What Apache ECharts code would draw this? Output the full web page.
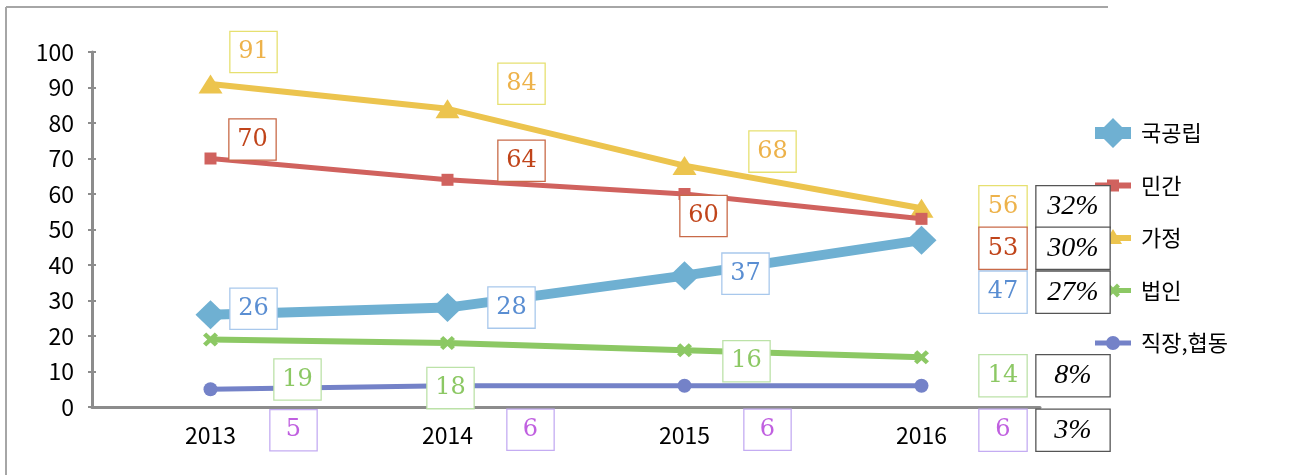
<!DOCTYPE html>
<html>
<head>
<meta charset="utf-8">
<script src="https://cdn.jsdelivr.net/npm/echarts@6/dist/echarts.min.js"></script>
<style>html,body{margin:0;padding:0;background:#fff}#c{width:1298px;height:475px}</style>
</head>
<body>
<div id="c"></div>
<script>
const years = ['2013', '2014', '2015', '2016'];
const seriesNames = ['국공립', '민간', '가정', '법인', '직장,협동'];
const public_ = [26, 28, 37, 47];
const privateV = [70, 64, 60, 53];
const home = [91, 84, 68, 56];
const corp = [19, 18, 16, 14];
const work = [5, 6, 6, 6];
const shares2016 = ['27%', '30%', '32%', '8%', '3%']; // by series order
const yTicks = [0, 100, 10];

// label offsets from each point (layout only)
const labelShift = [
  [[43, -6], [64, 0], [61, -2], [123, 51.5]],
  [[42, -19], [74, -19], [19, 22], [123, 29]],
  [[43, -32], [74, -25], [88, -14], [123, -2]],
  [[87, 40], [3, 45], [62, 11], [123, 18]],
  [[83, 41], [83, 44], [83, 44], [123, 44]]
];

const xMark = 'path://M0,3 L3,0 L7,4 L11,0 L14,3 L10,7 L14,11 L11,14 L7,10 L3,14 L0,11 L4,7 Z';
const styles = [
  {color: '#6FB0D2', width: 10, symbol: 'diamond', size: [30, 29], txt: '#5A8ED2', brd: '#A8C8EC',
   icon: 'path://M0,9 L36,9 L36,21 L0,21 Z M18,0 L33,15 L18,30 L3,15 Z'},
  {color: '#D0625E', width: 5, symbol: 'rect', size: [12, 12], txt: '#C0441A', brd: '#C86A48',
   icon: 'path://M0,0 L0.01,0 L0,0.01 Z M36,30 L35.99,30 L36,29.99 Z M0,12 L36,12 L36,18 L0,18 Z M12,9 L24,9 L24,21 L12,21 Z'},
  {color: '#ECC44E', width: 6, symbol: 'triangle', size: [24, 19], txt: '#EDB24A', brd: '#E6E070',
   icon: 'path://M0,0 L0.01,0 L0,0.01 Z M36,30 L35.99,30 L36,29.99 Z M0,12 L36,12 L36,18 L0,18 Z M18,6 L27,21 L9,21 Z'},
  {color: '#8CC864', width: 6, symbol: xMark, size: [15, 14], txt: '#8CC864', brd: '#BCE2A8',
   icon: 'path://M0,0 L0.01,0 L0,0.01 Z M36,30 L35.99,30 L36,29.99 Z M0,12.5 L36,12.5 L36,17.5 L0,17.5 Z M11,11 L14,8 L18,12 L22,8 L25,11 L21,15 L25,19 L22,22 L18,18 L14,22 L11,19 L15,15 Z'},
  {color: '#7482C8', width: 5, symbol: 'circle', size: [14, 14], txt: '#C060E0', brd: '#C4ACF2',
   icon: 'path://M0,0 L0.01,0 L0,0.01 Z M36,30 L35.99,30 L36,29.99 Z M0,12.5 L36,12.5 L36,17.5 L0,17.5 Z M11,15 A7,7 0 1,1 25,15 A7,7 0 1,1 11,15 Z'}
];
const valueArrays = [public_, privateV, home, corp, work];

const serifFont = '"DejaVu Serif", serif';
const sansFont = '"Noto Sans CJK KR", "Noto Sans", sans-serif';

function makeSeries(name, idx) {
  const st = styles[idx];
  const vals = valueArrays[idx];
  const data = vals.map((v, i) => {
    if (i < vals.length - 1) return v;
    return {
      value: v,
      label: {
        formatter: '{v|' + v + '}{s|}{p|' + shares2016[idx] + '}',
        width: null, height: null, lineHeight: 41, borderWidth: 0, backgroundColor: 'transparent', padding: 0,
        rich: {
          v: {width: 47, height: 41, lineHeight: 41, align: 'center', verticalAlign: 'middle', fontFamily: serifFont, fontSize: 24,
              color: st.txt, borderColor: st.brd, borderWidth: 1.3, backgroundColor: '#fff'},
          s: {width: 10, height: 41},
          p: {width: 73, height: 41, lineHeight: 41, align: 'center', verticalAlign: 'middle', fontFamily: '"Liberation Serif", serif',
              fontStyle: 'italic', fontSize: 28, color: '#000', borderColor: '#555', borderWidth: 1.3, backgroundColor: '#fff'}
        }
      }
    };
  });
  return {
    name: name,
    type: 'line',
    data: data,
    symbol: st.symbol,
    symbolSize: st.size,
    showAllSymbol: true,
    lineStyle: {color: st.color, width: st.width},
    itemStyle: {color: st.color},
    z: 10 - idx,
    label: {
      show: true,
      position: 'inside',
      width: 46, height: 40, lineHeight: 40,
      align: 'center', verticalAlign: 'middle',
      fontFamily: serifFont, fontSize: 24,
      color: st.txt,
      backgroundColor: '#fff',
      borderColor: st.brd, borderWidth: 1.3
    },
    labelLayout: function (p) {
      const s = labelShift[idx][p.dataIndex];
      return {dx: s[0], dy: s[1]};
    },
    emphasis: {disabled: true}
  };
}

const chart = echarts.init(document.getElementById('c'), null, {renderer: 'canvas'});
const axisCol = '#8C8C8C';
const option = {
  animation: false,
  backgroundColor: '#fff',
  grid: {left: 92, right: 258, top: 52, bottom: 68, containLabel: false},
  legend: {
    orient: 'vertical',
    left: 1090, top: 113,
    itemWidth: 36, itemHeight: 30, itemGap: 22.5,
    textStyle: {fontFamily: sansFont, fontSize: 22, color: '#000', padding: [0, 0, 0, 5]},
    data: seriesNames.map((n, i) => ({name: n, icon: styles[i].icon, itemStyle: {color: styles[i].color}}))
  },
  xAxis: {
    type: 'category', data: years, boundaryGap: true,
    axisLine: {lineStyle: {color: axisCol, width: 3}},
    axisTick: {show: false},
    axisLabel: {color: '#000', fontSize: 23, margin: 17, fontFamily: sansFont},
    splitLine: {show: false}
  },
  yAxis: [{
    type: 'value', min: yTicks[0], max: yTicks[1], interval: yTicks[2],
    axisLine: {show: true, lineStyle: {color: axisCol, width: 3}},
    axisTick: {show: true, length: 4, lineStyle: {color: axisCol, width: 2}},
    axisLabel: {color: '#000', fontSize: 23, margin: 18, fontFamily: sansFont},
    splitLine: {show: false}
  }, {
    type: 'value', position: 'left', min: yTicks[0], max: yTicks[1], interval: yTicks[2],
    axisLine: {show: false},
    axisTick: {show: true, inside: true, length: 4, lineStyle: {color: axisCol, width: 2}},
    axisLabel: {show: false},
    splitLine: {show: false}
  }],
  graphic: [
    {type: 'line', shape: {x1: 6, y1: 7, x2: 1108, y2: 7}, style: {stroke: '#A6A6A6', lineWidth: 2}, silent: true},
    {type: 'line', shape: {x1: 6, y1: 7, x2: 6, y2: 475}, style: {stroke: '#A6A6A6', lineWidth: 2}, silent: true}
  ],
  series: seriesNames.map((n, i) => makeSeries(n, i))
};
chart.setOption(option);
</script>
</body>
</html>
